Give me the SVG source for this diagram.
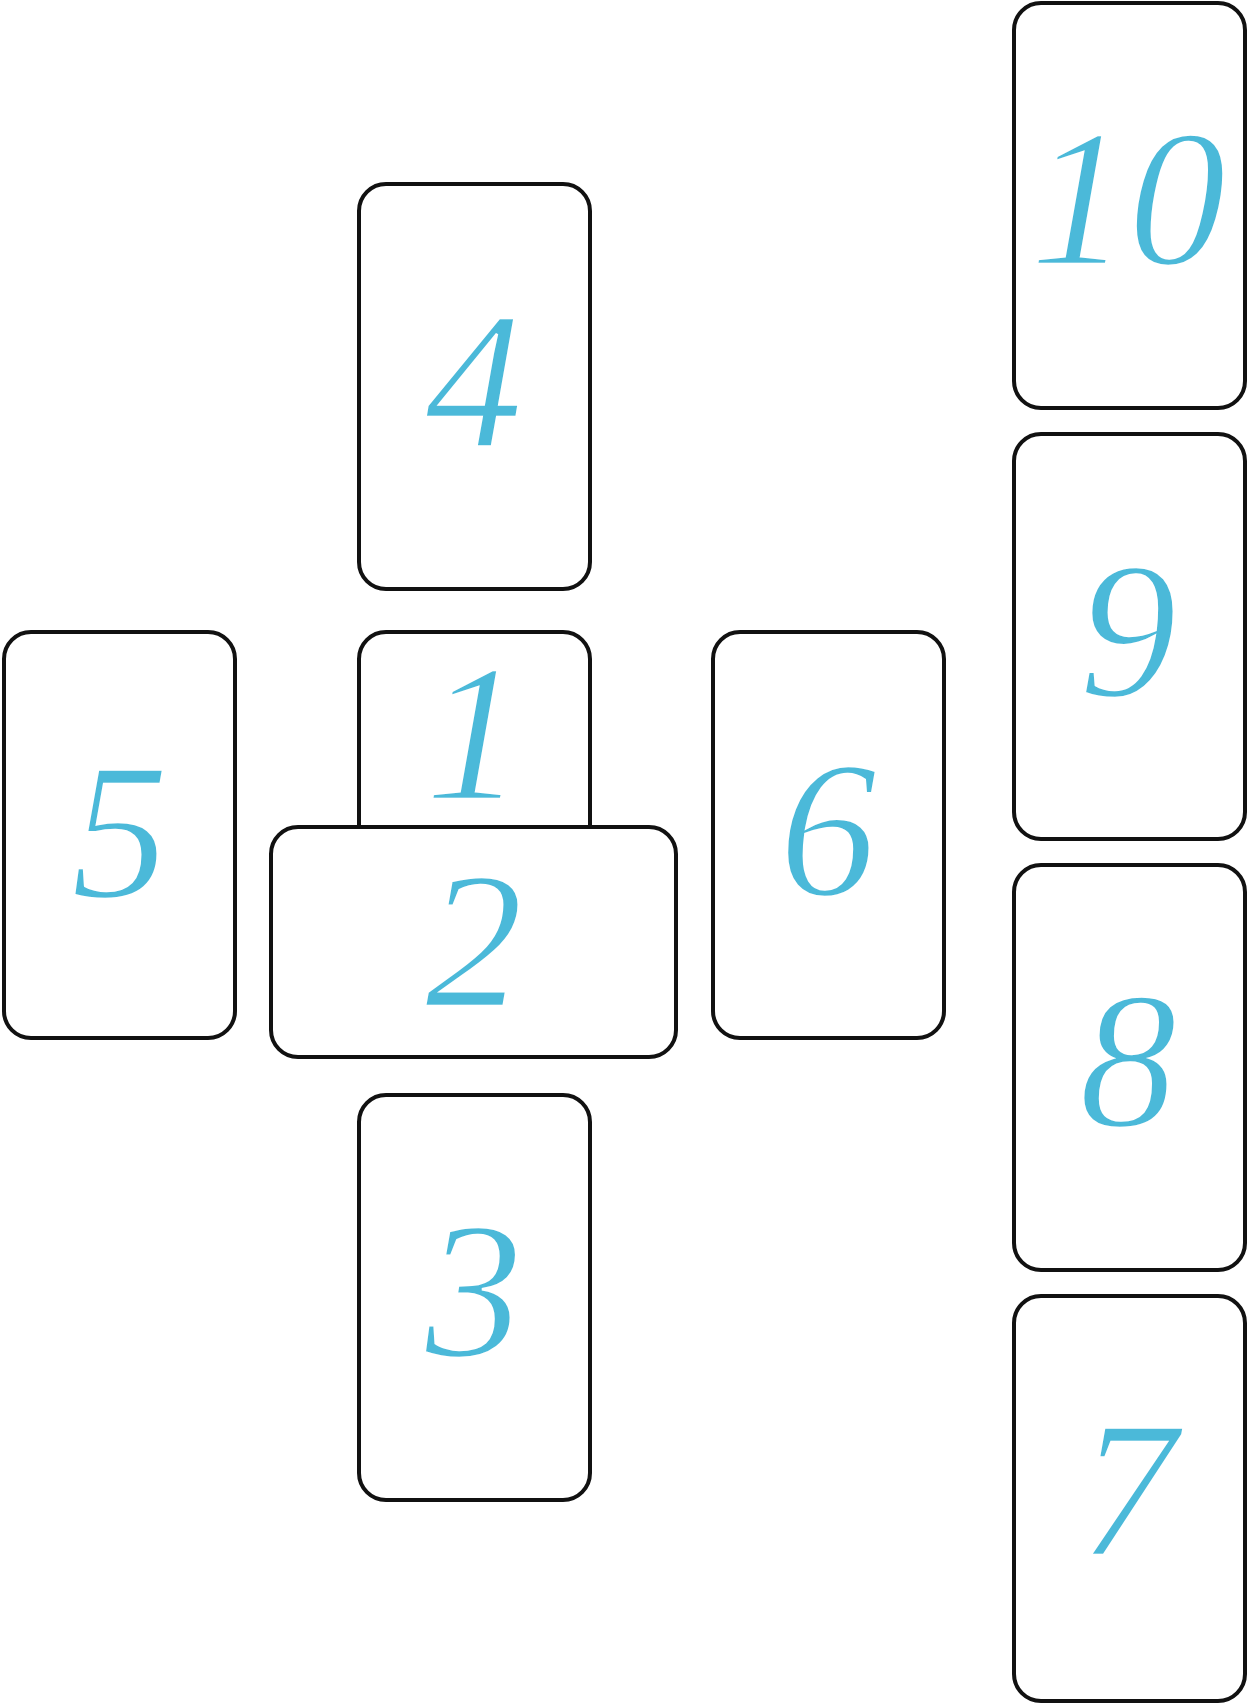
<svg xmlns="http://www.w3.org/2000/svg" width="1247" height="1704" viewBox="0 0 1247 1704">
<style>
.card{fill:#fff;stroke:#111;stroke-width:4}
.num{font-family:"Liberation Serif",serif;font-style:italic;font-weight:400;font-size:196px;fill:#4BB9D9;stroke:#fff;stroke-width:2.5;text-anchor:middle}
</style>
<rect width="1247" height="1704" fill="#fff"/>
<g id="card4"><rect class="card" x="359" y="184" width="231" height="405" rx="27"/><text class="num" x="474" y="446">4</text></g>
<g id="card1"><rect class="card" x="359" y="632" width="231" height="300" rx="27"/><text class="num" x="474" y="799">1</text></g>
<g id="card5"><rect class="card" x="4" y="632" width="231" height="406" rx="27"/><text class="num" x="120" y="897">5</text></g>
<g id="card2"><rect class="card" x="271" y="827" width="405" height="230" rx="27"/><text class="num" x="474" y="1006">2</text></g>
<g id="card6"><rect class="card" x="713" y="632" width="231" height="406" rx="27"/><text class="num" x="828" y="895">6</text></g>
<g id="card3"><rect class="card" x="359" y="1095" width="231" height="405" rx="27"/><text class="num" x="474" y="1356">3</text></g>
<g id="card10"><rect class="card" x="1014" y="3" width="231" height="405" rx="27"/><text class="num" x="1128" y="264">10</text></g>
<g id="card9"><rect class="card" x="1014" y="434" width="231" height="405" rx="27"/><text class="num" x="1128" y="696">9</text></g>
<g id="card8"><rect class="card" x="1014" y="865" width="231" height="405" rx="27"/><text class="num" x="1128" y="1126">8</text></g>
<g id="card7"><rect class="card" x="1014" y="1296" width="231" height="405" rx="27"/><text class="num" x="1128" y="1555">7</text></g>
<g id="connectors"></g>
</svg>
